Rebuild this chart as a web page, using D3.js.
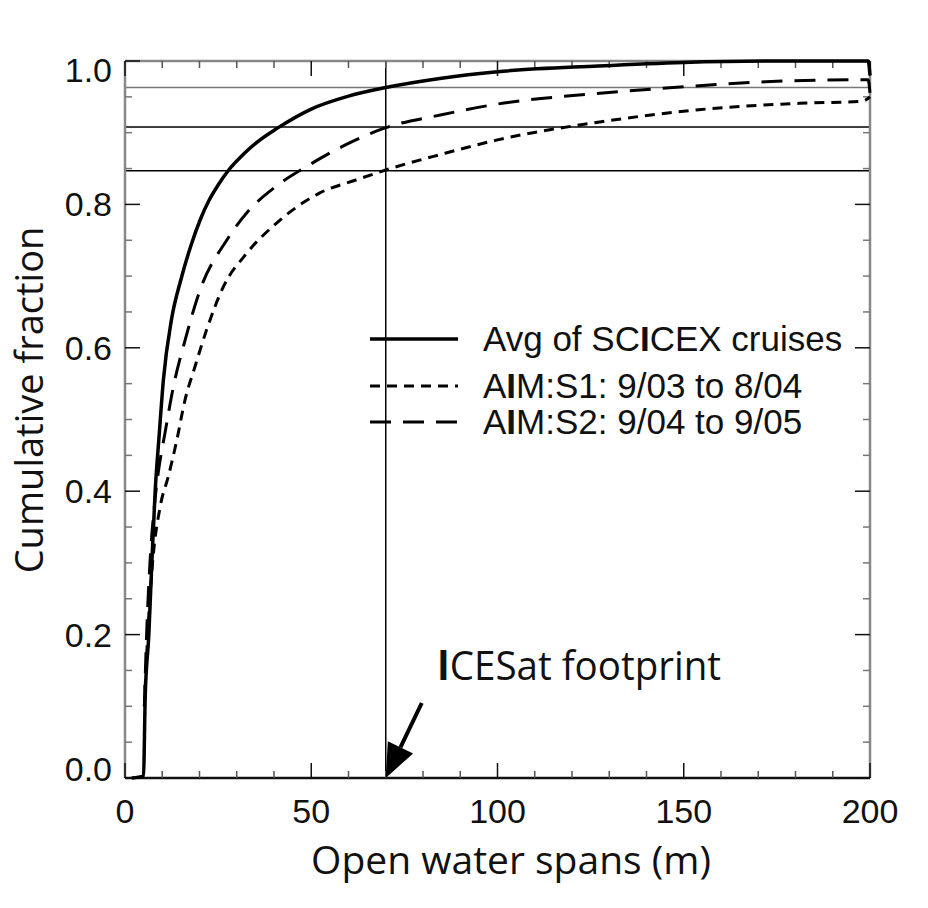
<!DOCTYPE html>
<html lang="en">
<head>
<meta charset="utf-8">
<title>Cumulative fraction of open water spans</title>
<script src="https://d3js.org/d3.v7.min.js"></script>
<style>
  body { margin: 0; background: #fff; }
  .tick-label { font-family: "Liberation Sans", Arial, sans-serif; font-size: 34px; fill: #111; }
  .legend-label { font-family: "Liberation Sans", Arial, sans-serif; font-size: 35px; fill: #111; }
  .title { font-family: "Open Sans", "Noto Sans", sans-serif; fill: #111; }
</style>
</head>
<body>
<script type="text/javascript">

// open water span (m), cumulative fraction
var scicex = [[1.8,0],[5.0,0.003],[5.2,0.05],[5.4,0.11],[6.4,0.2],[7.2,0.3],[8.1,0.4],[9.2,0.48],
  [10.3,0.555],[12.5,0.64],[15,0.695],[17.6,0.741],[20.3,0.78],[22.5,0.805],[25,0.827],[28,0.849],
  [32,0.871],[36,0.889],[40.8,0.906],[50,0.933],[60,0.951],[70,0.963],[85,0.976],[100,0.985],
  [127,0.993],[150,0.998],[175,1.0],[199.5,1.0],[200,0.98]];
var aimS1 = [[5.2,0.1],[6.1,0.2],[7.4,0.3],[9.5,0.38],[11.6,0.42],[13.9,0.471],[16.1,0.527],
  [18.8,0.574],[21.9,0.625],[26.4,0.685],[32.7,0.732],[40.7,0.774],[52.3,0.816],[62,0.834],
  [70,0.848],[85,0.87],[100,0.89],[127.5,0.915],[154,0.932],[181,0.941],[198,0.944],[200,0.95]];
var aimS2 = [[5.2,0.1],[5.8,0.2],[6.7,0.3],[7.9,0.38],[8.9,0.425],[10.7,0.48],[13,0.546],
  [16.1,0.61],[20.1,0.68],[27.3,0.75],[33,0.79],[40.5,0.825],[48.8,0.853],[60,0.885],[70,0.907],
  [85,0.925],[100,0.94],[127.5,0.955],[150,0.964],[172,0.971],[197,0.974],[199.5,0.974],[200,0.955]];

var seriesNames = ["Avg of SCICEX cruises", "AIM:S1: 9/03 to 8/04", "AIM:S2: 9/04 to 9/05"];
var refFractions = [0.963, 0.908, 0.847];   // horizontal guide lines
var footprint = 70;                          // ICESat footprint (m)
var xTicks = [0, 50, 100, 150, 200];
var yTicks = [0, 0.2, 0.4, 0.6, 0.8, 1.0];

var W = 928, H = 908;
var margin = {top: 61, right: 58, bottom: 130, left: 125};
var width = W - margin.left - margin.right;
var height = H - margin.top - margin.bottom;

var svg = d3.select("body").append("svg")
  .attr("width", W)
  .attr("height", H);

var g = svg.append("g").attr("transform", "translate(" + margin.left + "," + margin.top + ")");

var x = d3.scaleLinear().domain([0, 200]).range([0, width]);
var y = d3.scaleLinear().domain([0, 1]).range([height, 0]);

// reference lines
g.selectAll(".ref")
  .data(refFractions)
  .enter().append("line")
  .attr("x1", 0).attr("x2", width)
  .attr("y1", function(d) { return y(d); })
  .attr("y2", function(d) { return y(d); })
  .attr("stroke", function(d, i) { return i === 0 ? "#777" : "#000"; })
  .attr("stroke-width", 1.5);

g.append("line")
  .attr("x1", x(footprint)).attr("x2", x(footprint))
  .attr("y1", 0).attr("y2", height)
  .attr("stroke", "#000").attr("stroke-width", 1.5);

// frame
g.append("line").attr("x1", 0).attr("x2", 0).attr("y1", 0).attr("y2", height)
  .attr("stroke", "#888").attr("stroke-width", 2.5);
g.append("line").attr("x1", width).attr("x2", width).attr("y1", 0).attr("y2", height)
  .attr("stroke", "#888").attr("stroke-width", 2.5);
g.append("line").attr("x1", 0).attr("x2", width).attr("y1", 0).attr("y2", 0)
  .attr("stroke", "#888").attr("stroke-width", 2.5);
g.append("line").attr("x1", 0).attr("x2", width).attr("y1", height).attr("y2", height)
  .attr("stroke", "#111").attr("stroke-width", 2.5);

// inward ticks on all four sides
var xMinor = d3.range(0, 201, 10);
var yMinor = d3.range(0, 1.0001, 0.05);
function isMajorX(d) { return d % 50 === 0; }
function isMajorY(d) { return Math.abs(Math.round(d * 5) - d * 5) < 1e-6; }

g.selectAll(".xtick-b").data(xMinor).enter().append("line")
  .attr("x1", function(d) { return x(d); }).attr("x2", function(d) { return x(d); })
  .attr("y1", height).attr("y2", function(d) { return height - (isMajorX(d) ? 15 : 7); })
  .attr("stroke", function(d) { return isMajorX(d) ? "#111" : "#555"; }).attr("stroke-width", 1.5);
g.selectAll(".xtick-t").data(xMinor).enter().append("line")
  .attr("x1", function(d) { return x(d); }).attr("x2", function(d) { return x(d); })
  .attr("y1", 0).attr("y2", function(d) { return isMajorX(d) ? 15 : 7; })
  .attr("stroke", function(d) { return isMajorX(d) ? "#111" : "#555"; }).attr("stroke-width", 1.5);
g.selectAll(".ytick-l").data(yMinor).enter().append("line")
  .attr("y1", function(d) { return y(d); }).attr("y2", function(d) { return y(d); })
  .attr("x1", 0).attr("x2", function(d) { return isMajorY(d) ? 15 : 7; })
  .attr("stroke", function(d) { return isMajorY(d) ? "#111" : "#777"; }).attr("stroke-width", 1.5);
g.selectAll(".ytick-r").data(yMinor).enter().append("line")
  .attr("y1", function(d) { return y(d); }).attr("y2", function(d) { return y(d); })
  .attr("x1", width).attr("x2", function(d) { return width - (isMajorY(d) ? 15 : 7); })
  .attr("stroke", function(d) { return isMajorY(d) ? "#111" : "#777"; }).attr("stroke-width", 1.5);

// tick labels
g.selectAll(".xlab").data(xTicks).enter().append("text")
  .attr("class", "tick-label")
  .attr("x", function(d) { return x(d); })
  .attr("y", height + 45)
  .attr("text-anchor", "middle")
  .text(function(d) { return d; });

g.selectAll(".ylab").data(yTicks).enter().append("text")
  .attr("class", "tick-label")
  .attr("x", -13)
  .attr("y", function(d) {
    var off = d === 1 ? 9 : (d === 0 ? -9 : 0);
    return y(d) + 12 + off;
  })
  .attr("text-anchor", "end")
  .text(function(d) { return d3.format(".1f")(d); });

// curves
var line = d3.line()
  .x(function(d) { return x(d[0]); })
  .y(function(d) { return y(d[1]); })
  .curve(d3.curveMonotoneX);

var styles = [
  {w: 3.5, dash: null},
  {w: 3, dash: "10,7"},
  {w: 3, dash: "21,12"}
];

[scicex, aimS1, aimS2].forEach(function(pts, i) {
  g.append("path")
    .datum(pts)
    .attr("fill", "none")
    .attr("stroke", "#000")
    .attr("stroke-width", styles[i].w)
    .attr("stroke-dasharray", styles[i].dash)
    .attr("d", line);
});

// legend
var legendY = [278, 325, 361];
var legend = g.append("g").attr("transform", "translate(" + (370 - margin.left) + ",0)");
seriesNames.forEach(function(name, i) {
  legend.append("line")
    .attr("x1", 0).attr("x2", 88)
    .attr("y1", legendY[i]).attr("y2", legendY[i])
    .attr("stroke", "#000")
    .attr("stroke-width", styles[i].w)
    .attr("stroke-dasharray", styles[i].dash);
  var t = legend.append("text")
    .attr("class", "legend-label")
    .attr("x", 113)
    .attr("y", legendY[i] + 12);
  name.split(/(I)/).forEach(function(part) {
    if (!part) return;
    t.append("tspan").attr("font-weight", part === "I" ? "bold" : null).text(part);
  });
});

// ICESat footprint annotation
var tipX = x(footprint), tipY = y(0);
var ang = Math.atan2(75, -36);
var headLen = 34, headW = 14;
var bx = tipX - headLen * Math.cos(ang), by = tipY - headLen * Math.sin(ang);
g.append("line")
  .attr("x1", tipX + 36).attr("y1", tipY - 75)
  .attr("x2", bx).attr("y2", by)
  .attr("stroke", "#000").attr("stroke-width", 4);
g.append("path")
  .attr("d", "M" + tipX + "," + tipY +
    "L" + (bx + headW * Math.sin(ang)) + "," + (by - headW * Math.cos(ang)) +
    "L" + (bx - headW * Math.sin(ang)) + "," + (by + headW * Math.cos(ang)) + "Z")
  .attr("fill", "#000");

var note = g.append("text")
  .attr("class", "title")
  .attr("x", 437 - margin.left)
  .attr("y", 680 - margin.top)
  .attr("textLength", 284)
  .attr("lengthAdjust", "spacingAndGlyphs")
  .style("font-size", "41px");
note.append("tspan").attr("font-weight", "bold").text("I");
note.append("tspan").text("CESat footprint");

// axis titles
svg.append("text")
  .attr("class", "title")
  .attr("x", 511)
  .attr("y", 874)
  .attr("text-anchor", "middle")
  .style("font-size", "39px")
  .text("Open water spans (m)");

svg.append("text")
  .attr("class", "title")
  .attr("transform", "translate(43,400) rotate(-90)")
  .attr("text-anchor", "middle")
  .style("font-size", "38px")
  .text("Cumulative fraction");

</script>
</body>
</html>
